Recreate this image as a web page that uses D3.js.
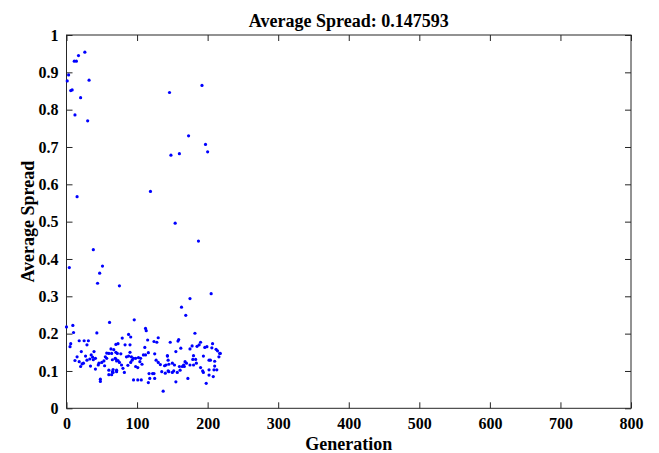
<!DOCTYPE html>
<html>
<head>
<meta charset="utf-8">
<script src="https://cdn.jsdelivr.net/npm/d3@7"></script>
<style>
  body { margin: 0; background: #fff; }
  svg { display: block; font-family: "Liberation Serif", "Times New Roman", serif; }
</style>
</head>
<body>
<div id="chart"></div>
<script>
const TITLE = 'Average Spread: 0.147593';
const xTicks = [0, 100, 200, 300, 400, 500, 600, 700, 800];
const yTicks = [0, 0.1, 0.2, 0.3, 0.4, 0.5, 0.6, 0.7, 0.8, 0.9, 1];

// generation index and spread of each point
const generation = [
  26, 17, 11, 14, 3, 1, 32, 8, 6, 20, 12, 30, 146, 148, 160, 192, 173, 197, 200,
  15, 119, 154, 38, 4, 51, 47, 44, 75, 187,
  0, 9, 10, 61, 43, 6, 5, 18, 25, 31, 29, 21, 39, 70, 63, 67, 72, 57, 60, 64,
  15, 27, 35, 37, 41, 33, 38, 12, 18, 29, 24, 22, 20, 34, 41, 46, 50, 53, 45,
  55, 57, 54, 69, 71, 65, 60, 65, 71, 60, 64, 66, 48, 48, 66,
  96, 112, 113, 88, 91, 79, 115, 130, 124, 128, 73, 83, 90, 111, 90, 116, 109,
  112, 105, 70, 77, 85, 92, 95, 98, 102, 88, 93, 125, 127, 130, 133, 143, 144,
  141, 139, 70, 73, 75, 78, 87, 91, 98, 101, 104, 107, 71, 80, 82, 117, 122,
  124, 118, 125, 95, 101, 106, 116, 137, 135, 140, 144,
  205, 175, 163, 169, 182, 159, 158, 147, 190, 188, 185, 207, 199, 196, 178,
  212, 214, 217, 216, 218, 206, 175, 162, 155, 143, 180, 183, 179, 194, 202,
  204, 210, 210, 168, 170, 166, 164, 167, 175, 180, 184, 150, 153, 145, 152,
  145, 150, 157, 161, 160, 190, 193, 194, 202, 209, 213, 202, 208, 155, 172, 198
];
const spread = [
  0.954, 0.945, 0.930, 0.930, 0.893, 0.877, 0.879, 0.853, 0.851, 0.832, 0.786, 0.770,
  0.846, 0.678, 0.682, 0.865, 0.730, 0.707, 0.687,
  0.567, 0.581, 0.496, 0.425, 0.377, 0.381, 0.362, 0.335, 0.328, 0.448,
  0.218, 0.222, 0.203, 0.230, 0.202, 0.173, 0.165, 0.181, 0.181, 0.181, 0.170,
  0.152, 0.152, 0.171, 0.159, 0.157, 0.147, 0.148, 0.147, 0.147,
  0.138, 0.140, 0.143, 0.137, 0.134, 0.132, 0.130, 0.128, 0.125, 0.129, 0.121,
  0.119, 0.112, 0.113, 0.105, 0.121, 0.123, 0.127, 0.116,
  0.138, 0.134, 0.114, 0.134, 0.127, 0.130, 0.102, 0.098, 0.102, 0.090, 0.090,
  0.096, 0.078, 0.072, 0.104,
  0.237, 0.214, 0.208, 0.198, 0.191, 0.188, 0.183, 0.189, 0.179, 0.177, 0.173,
  0.170, 0.170, 0.163, 0.150, 0.149, 0.143, 0.143, 0.134, 0.150, 0.146, 0.138,
  0.138, 0.134, 0.134, 0.136, 0.140, 0.129, 0.146, 0.129, 0.123, 0.117, 0.140,
  0.129, 0.116, 0.114, 0.132, 0.128, 0.123, 0.116, 0.115, 0.123, 0.112, 0.109,
  0.125, 0.118, 0.098, 0.107, 0.096, 0.093, 0.093, 0.093, 0.080, 0.080, 0.076,
  0.076, 0.076, 0.069, 0.046, 0.098, 0.094, 0.100,
  0.307, 0.294, 0.271, 0.249, 0.201, 0.184, 0.180, 0.177, 0.177, 0.170, 0.166,
  0.173, 0.165, 0.163, 0.167, 0.158, 0.154, 0.147, 0.138, 0.147, 0.162, 0.159,
  0.161, 0.152, 0.141, 0.141, 0.131, 0.131, 0.140, 0.129, 0.129, 0.126, 0.113,
  0.125, 0.121, 0.116, 0.112, 0.112, 0.116, 0.116, 0.121, 0.121, 0.116, 0.118,
  0.100, 0.098, 0.096, 0.096, 0.102, 0.112, 0.109, 0.100, 0.096, 0.103, 0.103,
  0.103, 0.089, 0.085, 0.071, 0.080, 0.067
];

const points = generation.map((g, i) => ({ g, v: spread[i] }));

const width = 659, height = 453;
const margin = { top: 35, right: 28, bottom: 45, left: 66.5 };

const svg = d3.select('#chart').append('svg')
  .attr('width', width)
  .attr('height', height);

const x = d3.scaleLinear().domain([0, 800]).range([margin.left, width - margin.right]);
const y = d3.scaleLinear().domain([0, 1]).range([height - margin.bottom + 0.3, margin.top]);

const axisColor = '#262626';
const tickLen = 6;

// tick labels via d3 axes, then style them
svg.append('g')
  .attr('transform', `translate(0,${y(0)})`)
  .call(d3.axisBottom(x).tickValues(xTicks).tickSizeInner(-tickLen).tickSizeOuter(0).tickPadding(9));

svg.append('g')
  .attr('transform', `translate(${x(0)},0)`)
  .call(d3.axisLeft(y).tickValues(yTicks).tickFormat(d3.format('~g')).tickSizeInner(-tickLen).tickSizeOuter(0).tickPadding(8));

// mirrored ticks on top and right
svg.append('g')
  .attr('transform', `translate(0,${y(1)})`)
  .call(d3.axisTop(x).tickValues(xTicks).tickSizeInner(-tickLen).tickSizeOuter(0).tickFormat(''));
svg.append('g')
  .attr('transform', `translate(${x(800)},0)`)
  .call(d3.axisRight(y).tickValues(yTicks).tickSizeInner(-tickLen).tickSizeOuter(0).tickFormat(''));

svg.selectAll('.domain').remove();
svg.selectAll('.tick line').attr('stroke', axisColor).attr('stroke-width', 1);
svg.selectAll('.tick text')
  .attr('fill', '#000')
  .style('font-family', '"Liberation Serif", serif')
  .style('font-weight', 'bold')
  .style('font-size', '16px');

// box
svg.append('rect')
  .attr('x', x(0))
  .attr('y', y(1))
  .attr('width', x(800) - x(0))
  .attr('height', y(0) - y(1))
  .attr('fill', 'none')
  .attr('stroke', axisColor)
  .attr('stroke-width', 1);

// points
svg.append('g')
  .selectAll('circle')
  .data(points)
  .join('circle')
  .attr('cx', d => x(d.g))
  .attr('cy', d => y(d.v))
  .attr('r', 1.6)
  .attr('fill', '#0000ff');

// title and axis labels
svg.append('text')
  .attr('x', (x(0) + x(800)) / 2)
  .attr('y', 27)
  .attr('text-anchor', 'middle')
  .style('font-weight', 'bold')
  .style('font-size', '18px')
  .text(TITLE);

svg.append('text')
  .attr('x', (x(0) + x(800)) / 2)
  .attr('y', 450)
  .attr('text-anchor', 'middle')
  .style('font-weight', 'bold')
  .style('font-size', '18px')
  .text('Generation');

svg.append('text')
  .attr('transform', `translate(34,${(y(0) + y(1)) / 2}) rotate(-90)`)
  .attr('text-anchor', 'middle')
  .style('font-weight', 'bold')
  .style('font-size', '18px')
  .text('Average Spread');
</script>
</body>
</html>
